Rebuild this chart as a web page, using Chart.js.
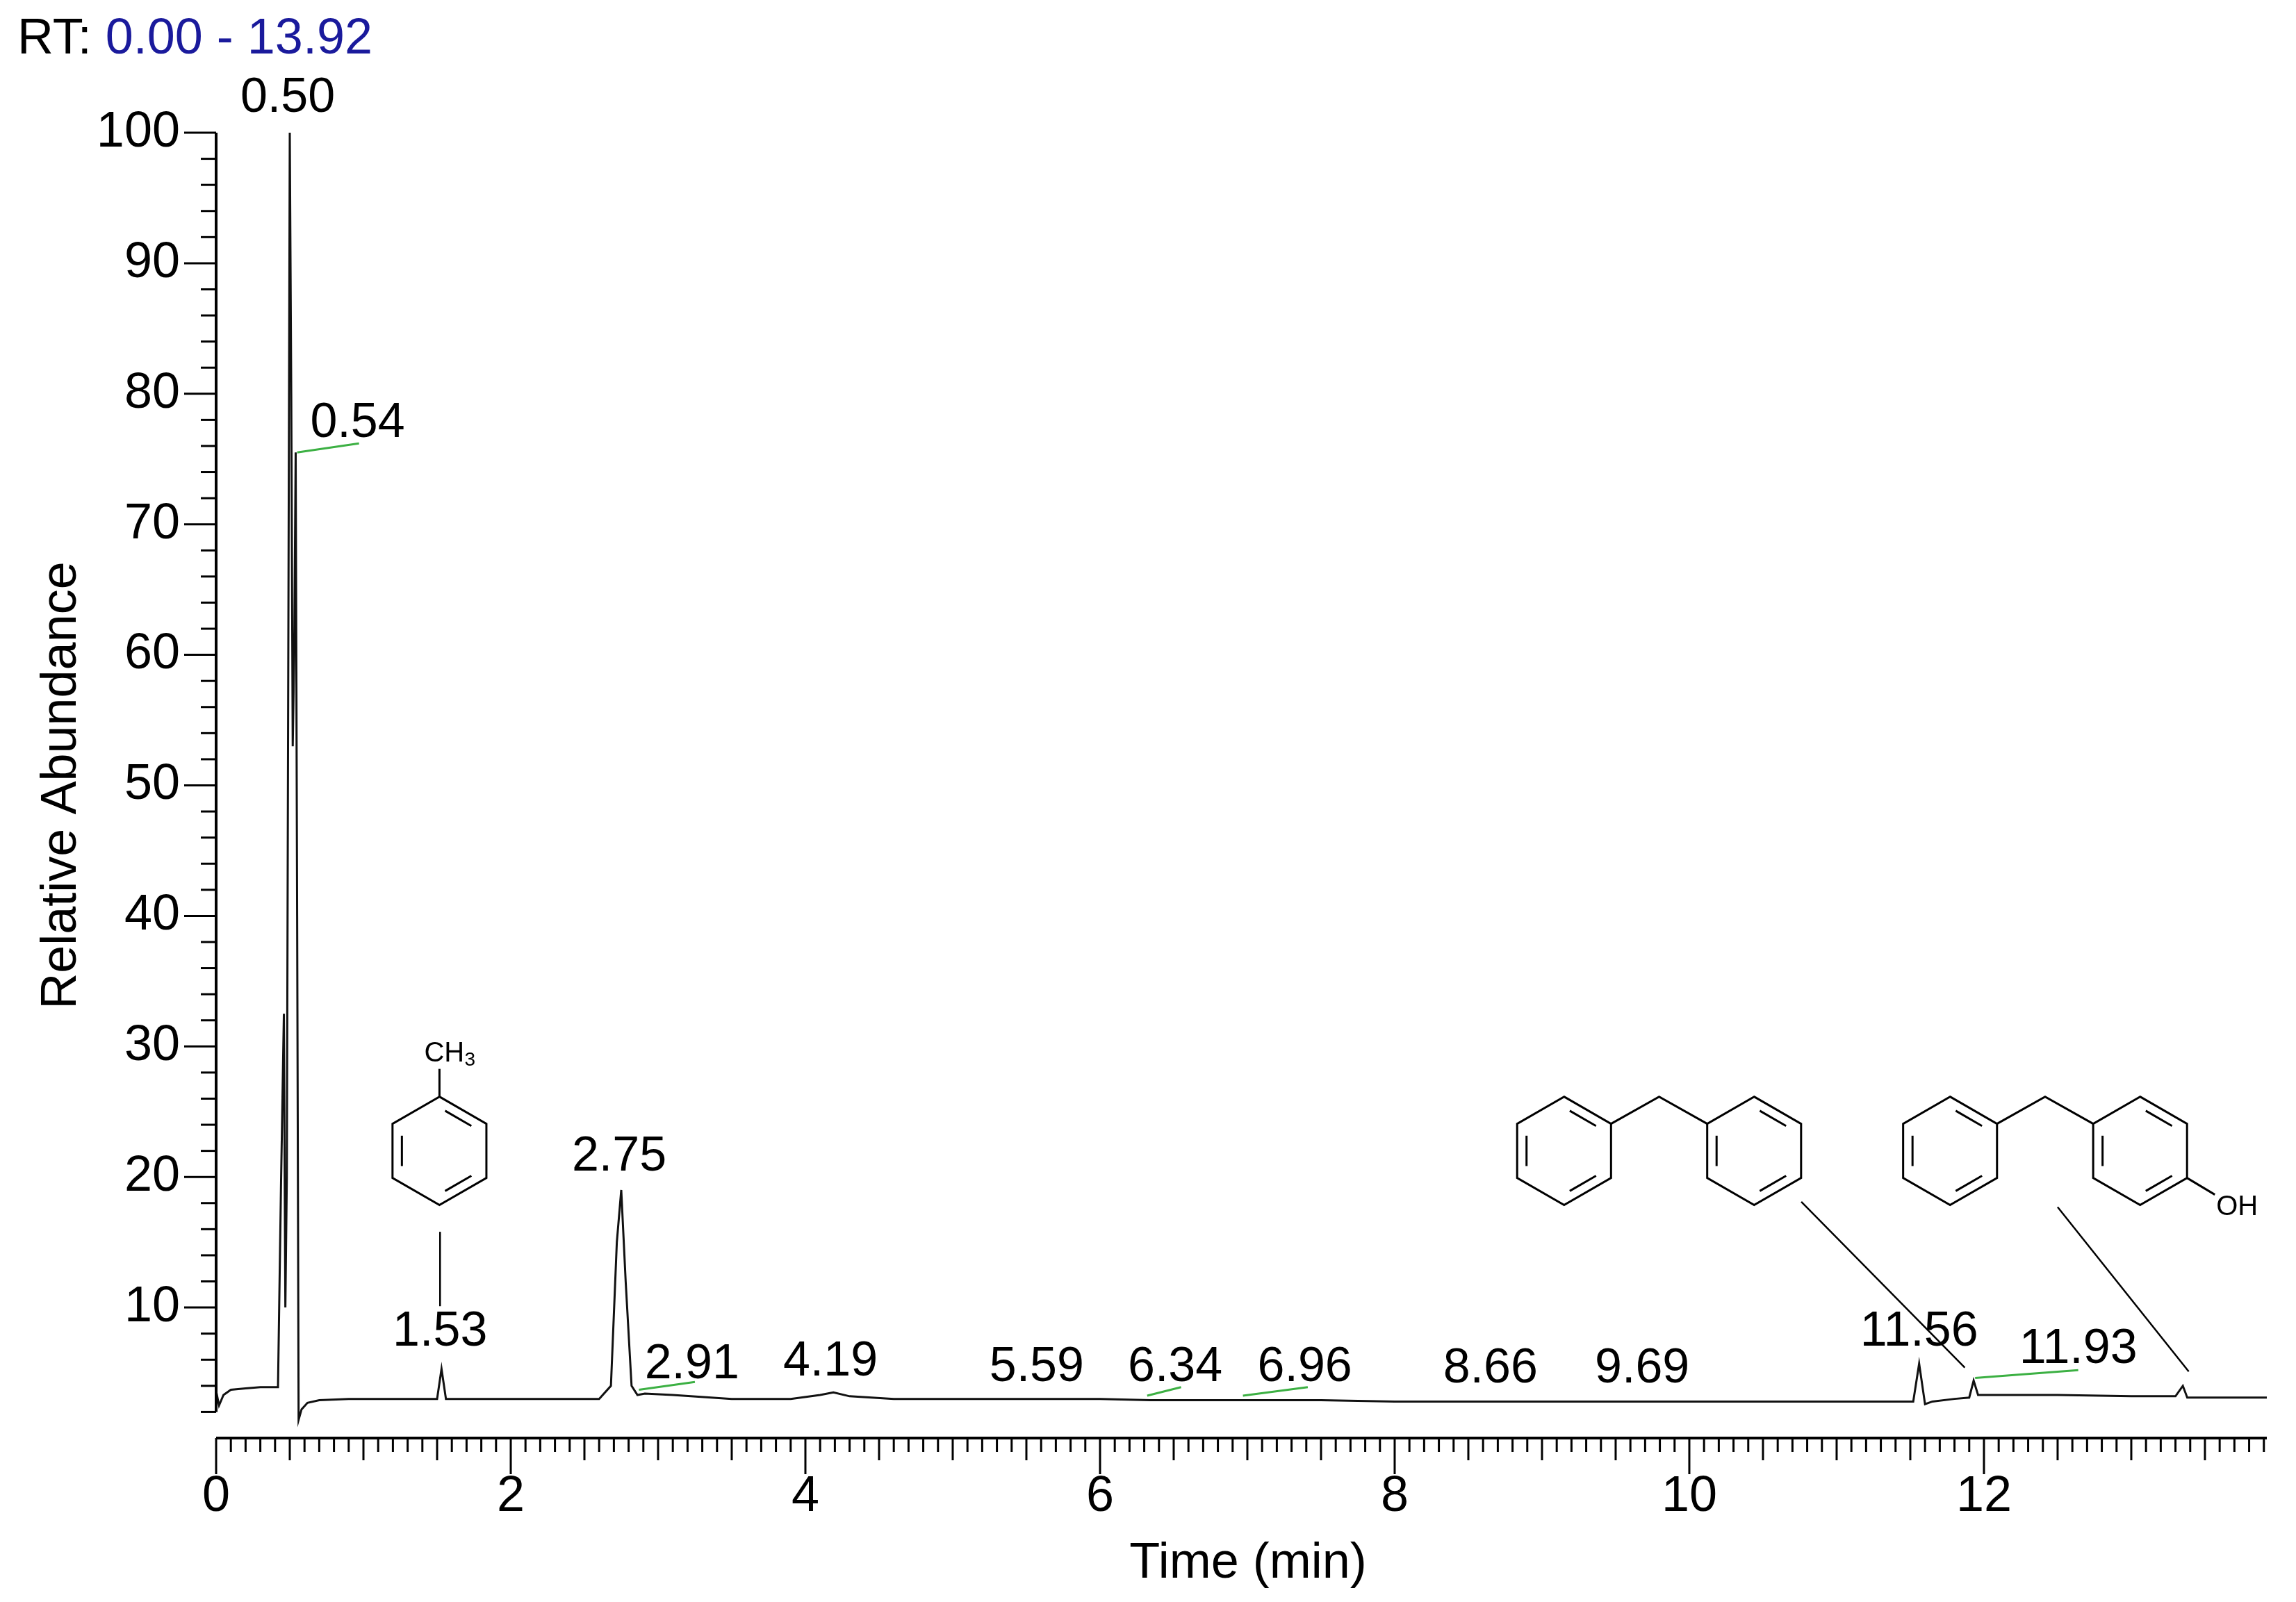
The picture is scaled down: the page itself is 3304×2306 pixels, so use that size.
<!DOCTYPE html>
<html>
<head>
<meta charset="utf-8">
<script src="https://cdn.jsdelivr.net/npm/chart.js@4.4.1/dist/chart.umd.min.js"></script>
<style>
  html, body { margin: 0; padding: 0; background: #fff; }
  #wrap { width: 3304px; height: 2306px; }
</style>
</head>
<body>
<div id="wrap"><canvas id="c" width="3304" height="2306"></canvas></div>
<script>
// Chromatogram trace (time in min, relative abundance)
const times = [0, 0.02, 0.05, 0.1, 0.2, 0.3, 0.42, 0.44, 0.46, 0.47, 0.48, 0.49, 0.50, 0.51, 0.52, 0.53, 0.54, 0.55, 0.56, 0.58, 0.62, 0.7, 0.9, 1.2, 1.5, 1.53, 1.56, 1.8, 2.2, 2.6, 2.68, 2.72, 2.75, 2.78, 2.82, 2.86, 2.91, 3.1, 3.5, 3.9, 4.1, 4.19, 4.3, 4.6, 5.0, 5.59, 6.0, 6.34, 6.96, 7.5, 8.0, 8.66, 9.2, 9.69, 10.2, 10.8, 11.3, 11.52, 11.56, 11.60, 11.65, 11.8, 11.9, 11.93, 11.96, 12.1, 12.5, 13.0, 13.3, 13.35, 13.38, 13.6, 13.92]
const abundance = [3.6, 2.5, 3.3, 3.7, 3.8, 3.9, 3.9, 19, 32.5, 10, 20, 60, 100, 80, 53, 60, 75.5, 40, 1.4, 2.2, 2.7, 2.9, 3.0, 3.0, 3.0, 5.3, 3.0, 3.0, 3.0, 3.0, 4.0, 15, 19, 12, 4, 3.3, 3.4, 3.3, 3.0, 3.0, 3.3, 3.5, 3.2, 3.0, 3.0, 3.0, 3.0, 2.9, 2.9, 2.9, 2.8, 2.8, 2.8, 2.8, 2.8, 2.8, 2.8, 2.8, 5.7, 2.6, 2.8, 3.0, 3.1, 4.4, 3.3, 3.3, 3.3, 3.2, 3.2, 4.0, 3.1, 3.1, 3.1]

// Peak labels: text and the place the text sits (time, abundance)
const peakText = ['0.50', '0.54', '1.53', '2.75', '2.91', '4.19', '5.59', '6.34', '6.96', '8.66', '9.69', '11.56', '11.93']
const peakLabelT = [0.486, 0.96, 1.52, 2.736, 3.23, 4.17, 5.57, 6.51, 7.39, 8.65, 9.68, 11.56, 12.64]
const peakLabelA = [102.6, 77.7, 8.1, 21.5, 5.6, 5.8, 5.4, 5.4, 5.4, 5.3, 5.3, 8.1, 6.8]

// Green baseline marks [t1, a1, t2, a2]
const greenMarks = [
  [0.55, 75.5, 0.97, 76.2],
  [2.87, 3.7, 3.25, 4.3],
  [6.32, 3.25, 6.55, 3.9],
  [6.97, 3.25, 7.41, 3.9],
  [11.94, 4.6, 12.64, 5.2]
]

// Leader lines from structures to peaks [t1, a1, t2, a2]
const leaders = [
  [1.52, 15.8, 1.52, 10.1],
  [10.76, 18.1, 11.87, 5.4],
  [12.5, 17.7, 13.39, 5.1]
]

// Structure ring centres (time, abundance)
const tolueneRing = [1.516, 22.0]
const dpmRings = [[9.15, 22.0], [10.44, 22.0]]
const hdpmRings = [[11.77, 22.0], [13.06, 22.0]]

const FONT = '"Liberation Sans", Arial, sans-serif'
const R = 78

function hexPts(cx, cy) {
  const p = []
  for (let k = 0; k < 6; k++) {
    const a = (-90 + 60 * k) * Math.PI / 180
    p.push([cx + R * Math.cos(a), cy + R * Math.sin(a)])
  }
  return p
}

function drawRing(ctx, cx, cy, dbl) {
  const p = hexPts(cx, cy)
  ctx.beginPath()
  p.forEach((q, i) => i ? ctx.lineTo(q[0], q[1]) : ctx.moveTo(q[0], q[1]))
  ctx.closePath()
  ctx.stroke()
  dbl.forEach(e => {
    const a = p[e], b = p[(e + 1) % 6]
    const f = 0.8, s = 0.15
    const ax = cx + (a[0] - cx) * f, ay = cy + (a[1] - cy) * f
    const bx = cx + (b[0] - cx) * f, by = cy + (b[1] - cy) * f
    ctx.beginPath()
    ctx.moveTo(ax + (bx - ax) * s, ay + (by - ay) * s)
    ctx.lineTo(bx - (bx - ax) * s, by - (by - ay) * s)
    ctx.stroke()
  })
  return p
}

const decor = {
  id: 'decor',
  afterDraw(chart) {
    const ctx = chart.ctx
    const x = chart.scales.x, y = chart.scales.y
    const px = t => x.getPixelForValue(t), py = a => y.getPixelForValue(a)
    ctx.save()
    ctx.strokeStyle = '#000'
    ctx.fillStyle = '#000'

    // axes
    ctx.lineWidth = 4
    ctx.beginPath()
    ctx.moveTo(px(0), py(100)); ctx.lineTo(px(0), py(2)); ctx.stroke()
    ctx.beginPath()
    ctx.moveTo(px(0), py(0)); ctx.lineTo(x.right, py(0))
    ctx.stroke()
    ctx.lineWidth = 3
    for (let v = 2; v <= 100; v += 2) {
      const len = v % 10 === 0 ? 46 : 22
      ctx.beginPath(); ctx.moveTo(px(0), py(v)); ctx.lineTo(px(0) - len, py(v)); ctx.stroke()
    }
    for (let i = 0; i <= 139; i++) {
      const v = i / 10
      const len = i % 20 === 0 ? 52 : (i % 5 === 0 ? 32 : 20)
      ctx.beginPath(); ctx.moveTo(px(v), py(0)); ctx.lineTo(px(v), py(0) + len); ctx.stroke()
    }

    // titles
    ctx.font = '72px ' + FONT
    ctx.textBaseline = 'middle'
    ctx.textAlign = 'left'
    ctx.fillText('RT:', 25, 57)
    const w = ctx.measureText('RT: ').width
    ctx.fillStyle = '#1a1a9c'
    ctx.fillText('0.00 - 13.92', 25 + w, 57)
    ctx.fillStyle = '#000'
    ctx.font = '72px ' + FONT
    ctx.textAlign = 'center'
    ctx.fillText('Time (min)', 1796, 2251)
    ctx.save()
    ctx.translate(89, (py(0) + py(100)) / 2)
    ctx.rotate(-Math.PI / 2)
    ctx.fillText('Relative Abundance', 0, 0)
    ctx.restore()

    // peak labels
    ctx.font = '70px ' + FONT
    peakText.forEach((s, i) => ctx.fillText(s, px(peakLabelT[i]), py(peakLabelA[i])))

    // green marks
    ctx.strokeStyle = '#3cb043'
    ctx.lineWidth = 3
    greenMarks.forEach(m => {
      ctx.beginPath(); ctx.moveTo(px(m[0]), py(m[1])); ctx.lineTo(px(m[2]), py(m[3])); ctx.stroke()
    })

    // leaders
    ctx.strokeStyle = '#000'
    ctx.lineWidth = 2.5
    leaders.forEach(m => {
      ctx.beginPath(); ctx.moveTo(px(m[0]), py(m[1])); ctx.lineTo(px(m[2]), py(m[3])); ctx.stroke()
    })

    // toluene
    ctx.lineWidth = 3
    const tp = drawRing(ctx, px(tolueneRing[0]), py(tolueneRing[1]), [0, 2, 4])
    ctx.beginPath(); ctx.moveTo(tp[0][0], tp[0][1]); ctx.lineTo(tp[0][0], tp[0][1] - 40); ctx.stroke()
    ctx.font = '40px ' + FONT
    ctx.textAlign = 'left'
    ctx.fillText('CH', tp[0][0] - 22, tp[0][1] - 62)
    ctx.font = '28px ' + FONT
    ctx.fillText('3', tp[0][0] + 36, tp[0][1] - 52)

    // diphenylmethane and hydroxy analogue
    ;[dpmRings, hdpmRings].forEach((rings, k) => {
      const a = drawRing(ctx, px(rings[0][0]), py(rings[0][1]), [0, 2, 4])
      const b = drawRing(ctx, px(rings[1][0]), py(rings[1][1]), [0, 2, 4])
      ctx.beginPath()
      ctx.moveTo(a[1][0], a[1][1])
      ctx.lineTo((a[1][0] + b[5][0]) / 2, a[0][1] - 0)
      ctx.lineTo(b[5][0], b[5][1])
      ctx.stroke()
      if (k === 1) {
        ctx.beginPath(); ctx.moveTo(b[2][0], b[2][1]); ctx.lineTo(b[2][0] + 40, b[2][1] + 24); ctx.stroke()
        ctx.font = '40px ' + FONT
        ctx.fillText('OH', b[2][0] + 42, b[2][1] + 42)
      }
    })
    ctx.restore()
  }
}

new Chart(document.getElementById('c'), {
  type: 'line',
  data: {
    datasets: [{
      data: times.map((t, i) => ({ x: t, y: abundance[i] })),
      borderColor: '#111',
      borderWidth: 3,
      pointRadius: 0,
      tension: 0,
      fill: false
    }]
  },
  options: {
    responsive: false,
    animation: false,
    layout: { padding: { top: 191, right: 0, left: 0, bottom: 0 } },
    plugins: { legend: { display: false }, tooltip: { enabled: false } },
    scales: {
      x: {
        type: 'linear', min: 0, max: 13.92,
        grid: { display: false, drawTicks: false },
        border: { display: false },
        afterFit(s) { s.height = 236 },
        ticks: {
          stepSize: 2, padding: 42, color: '#000',
          font: { size: 72, family: FONT },
          autoSkip: false, maxRotation: 0,
          callback: v => (v % 2 === 0 ? String(v) : '')
        }
      },
      y: {
        type: 'linear', min: 0, max: 100,
        grid: { display: false, drawTicks: false },
        border: { display: false },
        afterFit(s) { s.width = 311 },
        ticks: {
          stepSize: 10, padding: 52, color: '#000',
          font: { size: 72, family: FONT },
          callback: v => (v === 0 ? '' : String(v))
        }
      }
    }
  },
  plugins: [decor]
})
</script>
</body>
</html>
